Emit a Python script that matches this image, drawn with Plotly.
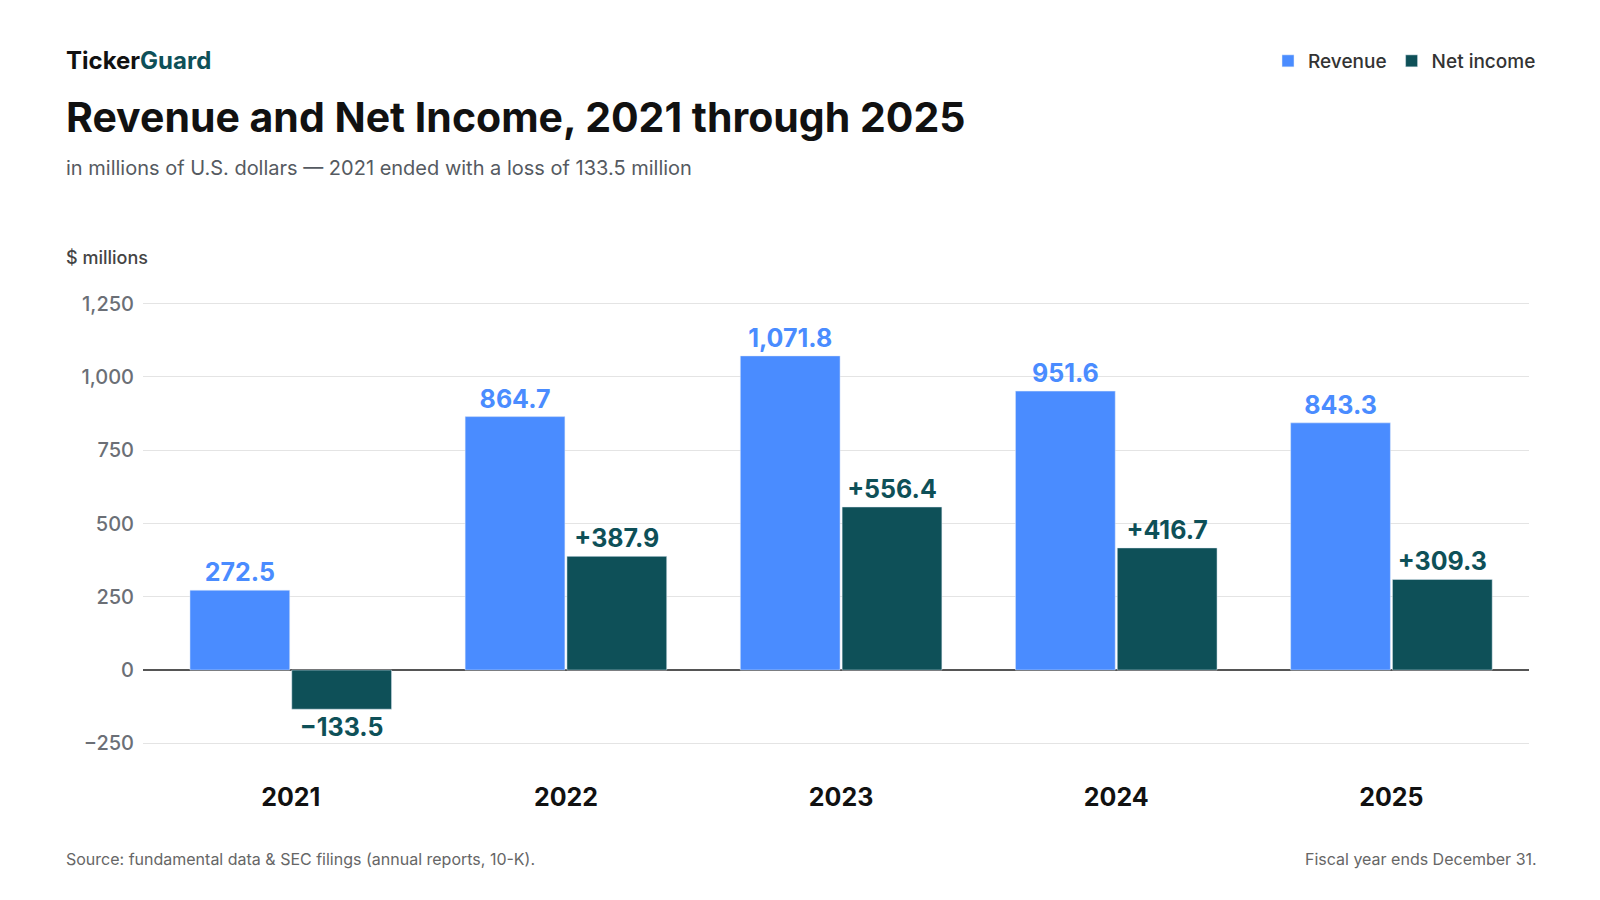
import plotly.graph_objects as go

years = ["2021", "2022", "2023", "2024", "2025"]
revenue = [272.5, 864.7, 1071.8, 951.6, 843.3]
net_income = [-133.5, 387.9, 556.4, 416.7, 309.3]
tick_vals = [-250, 0, 250, 500, 750, 1000, 1250]
tick_text = ["−250", "0", "250", "500", "750", "1,000", "1,250"]

BLUE = "#4A8CFF"
TEAL = "#0E5058"
FONT = "Inter, Noto Sans, sans-serif"

rev_text = [f"{v:,.1f}" for v in revenue]
ni_text = [("+" if v >= 0 else "−") + f"{abs(v):,.1f}" for v in net_income]

L, R, T, B = 143, 71, 289, 142
W, H = 1600, 900

fig = go.Figure()
fig.add_bar(x=years, y=revenue, name="Revenue", marker_color=BLUE,
            text=rev_text, textposition="outside", cliponaxis=False,
            textfont=dict(size=25, color=BLUE, family=FONT, weight=700))
fig.add_bar(x=years, y=net_income, name="Net income", marker_color=TEAL,
            text=ni_text, textposition="outside", cliponaxis=False,
            textfont=dict(size=25, color=TEAL, family=FONT, weight=700))

pw, ph = W - L - R, H - T - B
fig.update_layout(
    width=W, height=H, paper_bgcolor="white", plot_bgcolor="white",
    margin=dict(l=L, r=R, t=T, b=B, autoexpand=False),
    barmode="group", bargap=0.26, bargroupgap=0.02,
    font=dict(family=FONT, color="#222"),
    showlegend=True,
    legend=dict(orientation="h", x=(1541 - L) / pw, xanchor="right", y=(H - B - 61) / ph, yanchor="middle",
                font=dict(size=19, color="#333", weight=500), traceorder="normal", itemwidth=30),
    xaxis=dict(range=[-0.537, 4.5], tickfont=dict(size=25, color="#111", weight=700),
               ticklabelstandoff=22, showgrid=False, showline=False),
    yaxis=dict(range=[-300, 1300], tickvals=tick_vals, ticktext=tick_text,
               tickfont=dict(size=20, color="#6b6f76", weight=500), gridcolor="#e4e4e4",
               zeroline=True, zerolinecolor="#555", zerolinewidth=1.5, ticklabelstandoff=8),
)

ann = [
    dict(text="<b><span style='color:#111'>Ticker</span><span style='color:#0E5058'>Guard</span></b>",
         x=64, y=61, font=dict(size=24)),
    dict(text="<b>Revenue and Net Income, 2021 through 2025</b>", x=64, y=117,
         font=dict(size=41, color="#111")),
    dict(text="in millions of U.S. dollars — 2021 ended with a loss of 133.5 million",
         x=64, y=168, font=dict(size=20, color="#555a61")),
    dict(text="$ millions", x=64, y=257, font=dict(size=18, color="#444", weight=500)),
    dict(text="Source: fundamental data & SEC filings (annual reports, 10-K).", x=64, y=859,
         font=dict(size=16, color="#666")),
    dict(text="Fiscal year ends December 31.", x=1539, y=859, xanchor="right",
         font=dict(size=16, color="#666")),
]
for a in ann:
    fig.add_annotation(text=a["text"], x=(a["x"] - L) / pw, y=(H - B - a["y"]) / ph,
                       xref="paper", yref="paper", showarrow=False,
                       xanchor=a.get("xanchor", "left"), yanchor="middle", font=a["font"])

fig.write_html("out.html", config={"displayModeBar": False},
               post_script="document.body.style.margin='0';document.body.style.overflow='hidden';")
